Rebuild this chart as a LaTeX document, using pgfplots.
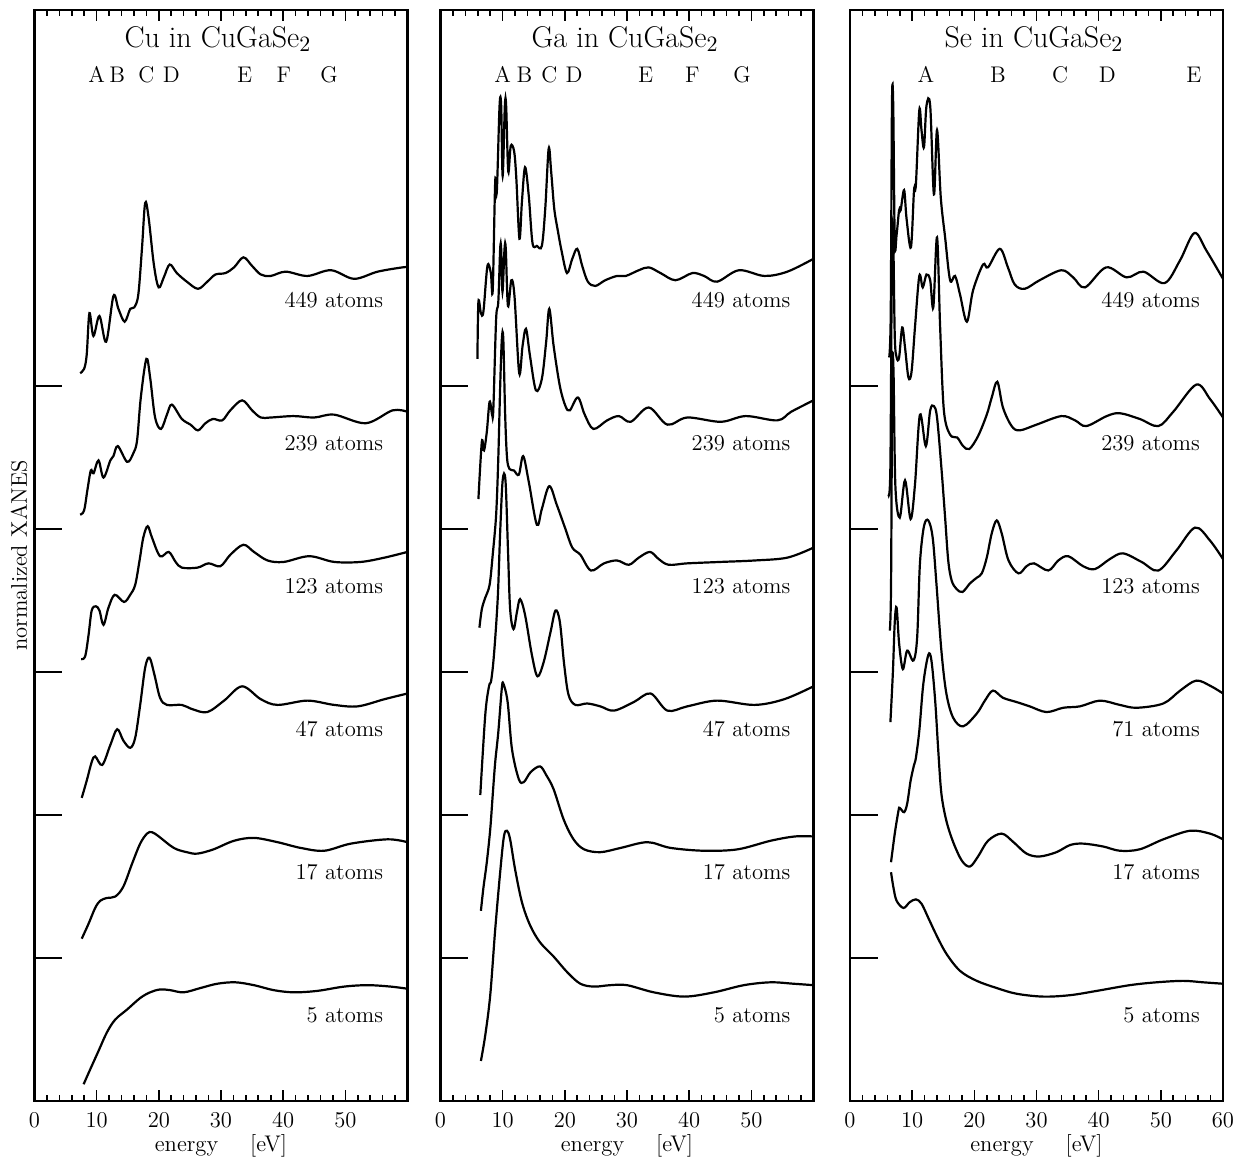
\documentclass[border=0pt]{standalone}
\usepackage{pgfplots}
\pgfplotsset{compat=1.18}

\pgfplotsset{
  xanes/.style={
    scale only axis, width=186.5pt, height=545.5pt,
    xmin=0, xmax=60, ymin=0, ymax=7.63,
    xtick={0,10,...,60}, minor x tick num=4,
    ytick=\empty, minor ytick={0.25,0.5,...,7.5},
    tick align=inside,
    major tick length=5.5pt, minor tick length=2.8pt,
    axis line style={line width=1.1pt},
    every tick/.style={black, line width=0.8pt},
    tick label style={font=\fontsize{11.3}{13}\selectfont},
    xticklabel style={yshift=-2pt},
    xlabel={energy\hspace{16pt}[eV]},
    xlabel style={font=\fontsize{11.3}{13}\selectfont,
      at={(axis description cs:0.5,0)}, anchor=base, yshift=-25.3pt},
  },
  curve/.style={black, line width=1.1pt, smooth, tension=0.55, mark=none},
  base/.style={black, line width=1.1pt, mark=none},
}
\newcommand{\lbl}{\fontsize{11.3}{13}\selectfont}
\newcommand{\ttl}{\fontsize{15}{17}\selectfont}

\begin{document}
\begin{tikzpicture}

% ---------- Cu ----------
\begin{axis}[xanes, at={(0pt,0pt)},
  xticklabels={0,10,20,30,40,50,},
  ylabel={normalized XANES},
  ylabel style={font=\lbl, at={(axis description cs:0,0.5)}, anchor=south}]
\addplot[base] coordinates {(0,1)(4.5,1)};
\addplot[base] coordinates {(0,2)(4.5,2)};
\addplot[base] coordinates {(0,3)(4.5,3)};
\addplot[base] coordinates {(0,4)(4.5,4)};
\addplot[base] coordinates {(0,5)(4.5,5)};
% 449
\addplot[curve] coordinates {(7.34,5.09)(7.98,5.12)(8.4,5.22)(8.84,5.51)(9.48,5.35)(10.45,5.49)(11.53,5.31)(12.7,5.63)(13.5,5.54)(14.5,5.45)(15.4,5.54)(16.05,5.55)(16.7,5.64)(17.3,5.97)(17.8,6.28)(18.35,6.18)(19.2,5.85)(19.97,5.69)(20.8,5.76)(21.75,5.85)(22.9,5.79)(24.5,5.73)(26.3,5.68)(27.8,5.73)(29.1,5.78)(30.7,5.79)(32.1,5.83)(33.6,5.9)(35.0,5.84)(36.4,5.78)(38.0,5.77)(40.4,5.80)(43.9,5.77)(47.7,5.81)(51.4,5.75)(55.2,5.80)(59.2,5.83)(60,5.83)};
% 239
\addplot[curve] coordinates {(7.34,4.10)(7.98,4.13)(8.5,4.27)(9.06,4.41)(9.5,4.39)(10.3,4.48)(11.1,4.36)(12.2,4.48)(12.7,4.51)(13.4,4.58)(14.9,4.47)(15.9,4.53)(16.5,4.62)(17.1,4.92)(18.0,5.19)(18.6,5.06)(19.4,4.78)(20.35,4.70)(21.3,4.80)(22.1,4.87)(23.7,4.77)(25.1,4.73)(26.3,4.69)(27.5,4.74)(28.7,4.77)(30.2,4.76)(31.5,4.83)(33.4,4.90)(35.0,4.83)(36.4,4.78)(38.0,4.78)(41.7,4.79)(45,4.78)(48.2,4.80)(53.3,4.74)(57.6,4.83)(60,4.82)};
% 123
\addplot[curve] coordinates {(7.5,3.09)(8.15,3.11)(8.7,3.26)(9.2,3.43)(9.87,3.46)(10.45,3.43)(11.1,3.33)(11.9,3.45)(12.9,3.54)(14.4,3.49)(15.4,3.54)(16.2,3.61)(16.9,3.78)(17.5,3.94)(18.2,4.02)(18.9,3.94)(20.2,3.81)(21.6,3.84)(22.7,3.77)(23.7,3.73)(26.2,3.73)(28.0,3.76)(29.9,3.74)(31.5,3.82)(33.6,3.89)(35.3,3.84)(37.5,3.78)(40.1,3.77)(44.2,3.81)(48.2,3.77)(52.5,3.77)(56.3,3.80)(60,3.84)};
% 47
\addplot[curve] coordinates {(7.6,2.12)(8.4,2.24)(9.2,2.37)(9.76,2.41)(10.9,2.35)(12.2,2.49)(13.3,2.60)(14.3,2.52)(15.4,2.47)(16.2,2.54)(17.0,2.77)(17.8,3.03)(18.5,3.10)(19.3,2.98)(20.2,2.82)(21.3,2.77)(23.7,2.77)(25.4,2.74)(27.8,2.72)(30.5,2.80)(33.4,2.90)(36.4,2.81)(39.1,2.77)(43.9,2.80)(48.2,2.77)(52.0,2.76)(56.3,2.81)(60,2.85)};
% 17
\addplot[curve] coordinates {(7.6,1.135)(8.7,1.24)(9.76,1.35)(10.56,1.40)(11.65,1.42)(13.0,1.43)(14.3,1.50)(15.7,1.66)(17.0,1.80)(18.1,1.87)(18.9,1.88)(20.0,1.85)(22.4,1.77)(24.5,1.74)(26.2,1.73)(28.8,1.76)(32.1,1.82)(35.3,1.84)(39.1,1.81)(42.8,1.77)(46.6,1.75)(50.9,1.80)(56.8,1.83)(60,1.81)};
% 5
\addplot[curve] coordinates {(7.9,0.117)(8.95,0.22)(10.3,0.35)(11.65,0.48)(13.0,0.57)(14.9,0.64)(17.0,0.72)(18.6,0.76)(20.2,0.78)(21.85,0.775)(24.0,0.76)(26.7,0.79)(29.4,0.82)(32.3,0.83)(35.3,0.81)(38.5,0.775)(41.7,0.76)(45.5,0.77)(49.8,0.80)(53.6,0.81)(57.3,0.80)(60,0.785)};
\node[anchor=base, font=\ttl] at (axis cs:29.5,7.37) {Cu in CuGaSe$_2$};
\node[anchor=base, font=\lbl] at (axis cs:10.0,7.12) {A};
\node[anchor=base, font=\lbl] at (axis cs:13.3,7.12) {B};
\node[anchor=base, font=\lbl] at (axis cs:18.0,7.12) {C};
\node[anchor=base, font=\lbl] at (axis cs:22.0,7.12) {D};
\node[anchor=base, font=\lbl] at (axis cs:33.8,7.12) {E};
\node[anchor=base, font=\lbl] at (axis cs:40.1,7.12) {F};
\node[anchor=base, font=\lbl] at (axis cs:47.4,7.12) {G};
\node[anchor=base east, font=\lbl] at (axis cs:57.2,5.55) {449 atoms};
\node[anchor=base east, font=\lbl] at (axis cs:57.2,4.55) {239 atoms};
\node[anchor=base east, font=\lbl] at (axis cs:57.2,3.55) {123 atoms};
\node[anchor=base east, font=\lbl] at (axis cs:57.2,2.55) {47 atoms};
\node[anchor=base east, font=\lbl] at (axis cs:57.2,1.55) {17 atoms};
\node[anchor=base east, font=\lbl] at (axis cs:57.2,0.55) {5 atoms};
\end{axis}

% ---------- Ga ----------
\begin{axis}[xanes, at={(203pt,0pt)},
  xticklabels={0,10,20,30,40,50,}]
\addplot[base] coordinates {(0,1)(4.5,1)};
\addplot[base] coordinates {(0,2)(4.5,2)};
\addplot[base] coordinates {(0,3)(4.5,3)};
\addplot[base] coordinates {(0,4)(4.5,4)};
\addplot[base] coordinates {(0,5)(4.5,5)};
% 449
\addplot[curve] coordinates {(5.94,5.19)(6.1,5.59)(6.5,5.51)(6.9,5.52)(7.55,5.84)(8.1,5.79)(8.4,5.67)(8.8,6.43)(9.06,6.36)(9.5,6.96)(9.76,6.96)(10.0,6.47)(10.35,6.96)(10.56,6.96)(10.9,6.50)(11.3,6.68)(11.85,6.64)(12.2,6.45)(12.7,6.03)(13.1,6.29)(13.6,6.53)(14.2,6.33)(14.8,6.0)(15.5,5.98)(16.3,5.98)(16.85,6.24)(17.4,6.66)(17.8,6.50)(18.3,6.24)(18.9,6.08)(19.5,5.94)(20.35,5.79)(21.2,5.89)(22.0,5.96)(22.8,5.84)(23.7,5.73)(24.9,5.70)(26.5,5.74)(28.4,5.77)(29.8,5.77)(31.9,5.81)(33.5,5.83)(35.4,5.79)(37.8,5.74)(40.5,5.79)(42.4,5.77)(44.5,5.73)(48.0,5.81)(52.1,5.77)(55.8,5.80)(60,5.89)};
% 239
\addplot[curve] coordinates {(6.1,4.21)(6.65,4.61)(7.0,4.55)(7.45,4.68)(7.9,4.89)(8.3,4.80)(8.5,4.84)(8.95,5.47)(9.3,5.59)(9.6,5.96)(9.76,5.96)(9.97,5.66)(10.3,5.96)(10.5,5.96)(10.85,5.56)(11.4,5.74)(11.9,5.63)(12.66,5.09)(13.2,5.28)(13.75,5.40)(14.4,5.21)(15.35,4.97)(16.3,5.05)(17.0,5.31)(17.5,5.54)(18.2,5.28)(19.2,5.00)(20.1,4.86)(20.8,4.83)(22.1,4.92)(23.2,4.80)(24.6,4.70)(26.8,4.76)(28.7,4.79)(30.6,4.75)(33.5,4.85)(36.5,4.73)(39.7,4.78)(45.1,4.75)(49.1,4.79)(54.2,4.76)(56.4,4.82)(60,4.90)};
% 123
\addplot[curve] coordinates {(6.26,3.31)(6.65,3.44)(7.2,3.52)(7.9,3.61)(8.4,3.82)(8.95,4.10)(9.3,4.5)(9.6,5.0)(9.87,5.33)(10.1,5.33)(10.4,4.8)(10.7,4.5)(11.1,4.42)(11.8,4.41)(12.6,4.38)(13.3,4.51)(14.2,4.33)(15.5,4.03)(16.3,4.14)(17.5,4.30)(18.7,4.17)(20.1,4.00)(21.2,3.87)(22.5,3.82)(24.2,3.71)(26.3,3.76)(28.4,3.78)(30.3,3.75)(31.9,3.80)(33.7,3.84)(35.1,3.79)(36.7,3.75)(39.7,3.76)(45.1,3.77)(50.5,3.78)(55.8,3.80)(60,3.87)};
% 47
\addplot[curve] coordinates {(6.4,2.14)(7.2,2.70)(7.8,2.90)(8.15,2.94)(8.6,3.12)(9.2,3.51)(9.6,3.98)(10.0,4.34)(10.45,4.34)(10.85,3.86)(11.2,3.44)(11.75,3.30)(12.3,3.42)(12.8,3.51)(13.6,3.40)(14.7,3.12)(15.6,2.97)(16.6,3.07)(17.7,3.28)(18.5,3.43)(19.2,3.35)(19.9,3.05)(20.6,2.84)(21.7,2.77)(23.6,2.78)(25.7,2.76)(27.9,2.73)(31.1,2.79)(33.8,2.85)(36.5,2.73)(39.7,2.76)(44.5,2.80)(50.5,2.77)(55.3,2.81)(60,2.90)};
% 17
\addplot[curve] coordinates {(6.5,1.33)(6.9,1.49)(7.45,1.67)(8.0,1.90)(8.4,2.14)(8.8,2.37)(9.3,2.58)(9.85,2.88)(10.1,2.92)(10.8,2.79)(11.5,2.46)(12.6,2.25)(13.4,2.23)(14.5,2.30)(16.0,2.34)(17.0,2.28)(18.2,2.18)(19.8,1.97)(21.4,1.83)(23.1,1.76)(25.7,1.74)(29.0,1.77)(33.3,1.81)(37.0,1.77)(42.4,1.75)(47.8,1.76)(53.1,1.82)(57.0,1.85)(60,1.85)};
% 5
\addplot[curve] coordinates {(6.5,0.28)(7.2,0.46)(8.0,0.74)(8.8,1.20)(9.6,1.60)(10.2,1.85)(10.7,1.89)(11.2,1.83)(12.0,1.62)(13.1,1.39)(14.4,1.23)(16.0,1.11)(18.2,1.01)(20.4,0.90)(22.5,0.82)(24.7,0.80)(27.3,0.81)(30.0,0.81)(34.3,0.76)(39.2,0.73)(44.0,0.76)(48.8,0.81)(53.1,0.83)(56.8,0.82)(60,0.81)};
\node[anchor=base, font=\ttl] at (axis cs:29.7,7.37) {Ga in CuGaSe$_2$};
\node[anchor=base, font=\lbl] at (axis cs:10.0,7.12) {A};
\node[anchor=base, font=\lbl] at (axis cs:13.5,7.12) {B};
\node[anchor=base, font=\lbl] at (axis cs:17.5,7.12) {C};
\node[anchor=base, font=\lbl] at (axis cs:21.5,7.12) {D};
\node[anchor=base, font=\lbl] at (axis cs:33.0,7.12) {E};
\node[anchor=base, font=\lbl] at (axis cs:40.5,7.12) {F};
\node[anchor=base, font=\lbl] at (axis cs:48.5,7.12) {G};
\node[anchor=base east, font=\lbl] at (axis cs:57.4,5.55) {449 atoms};
\node[anchor=base east, font=\lbl] at (axis cs:57.4,4.55) {239 atoms};
\node[anchor=base east, font=\lbl] at (axis cs:57.4,3.55) {123 atoms};
\node[anchor=base east, font=\lbl] at (axis cs:57.4,2.55) {47 atoms};
\node[anchor=base east, font=\lbl] at (axis cs:57.4,1.55) {17 atoms};
\node[anchor=base east, font=\lbl] at (axis cs:57.4,0.55) {5 atoms};
\end{axis}

% ---------- Se ----------
\begin{axis}[xanes, at={(407.75pt,0pt)},
  xticklabels={0,10,20,30,40,50,60}]
\addplot[base] coordinates {(0,1)(4.5,1)};
\addplot[base] coordinates {(0,2)(4.5,2)};
\addplot[base] coordinates {(0,3)(4.5,3)};
\addplot[base] coordinates {(0,4)(4.5,4)};
\addplot[base] coordinates {(0,5)(4.5,5)};
% 449
\addplot[curve] coordinates {(6.3,5.20)(6.55,5.5)(6.75,6.97)(6.95,6.97)(7.2,6.0)(7.5,6.06)(7.9,6.23)(8.15,6.23)(8.7,6.37)(9.1,6.17)(9.8,5.97)(10.3,6.37)(10.6,6.41)(11.15,6.93)(11.5,6.79)(11.9,6.67)(12.3,6.96)(12.9,6.96)(13.5,6.34)(14.0,6.79)(14.6,6.32)(15.3,6.04)(16.1,5.74)(16.9,5.77)(17.7,5.64)(18.8,5.45)(19.8,5.67)(21.4,5.85)(22.2,5.83)(24.1,5.96)(25.4,5.83)(26.5,5.71)(28.1,5.68)(30.5,5.74)(34.0,5.81)(35.9,5.76)(37.8,5.69)(41.2,5.83)(44.5,5.76)(47.2,5.80)(50.6,5.72)(53.1,5.88)(55.4,6.07)(57.3,5.95)(60,5.75)};
% 239
\addplot[curve] coordinates {(6.2,4.24)(6.5,4.45)(6.75,6.0)(6.95,6.05)(7.2,5.35)(7.5,5.20)(7.9,5.20)(8.4,5.41)(8.85,5.27)(9.4,5.06)(9.9,5.10)(10.45,5.41)(11.15,5.77)(11.7,5.69)(12.3,5.78)(12.9,5.74)(13.4,5.55)(14.0,6.04)(14.5,5.41)(15.1,4.83)(16.1,4.66)(17.25,4.64)(18.2,4.58)(19.2,4.56)(20.6,4.65)(22.0,4.80)(22.8,4.92)(23.7,5.03)(24.6,4.85)(26.0,4.72)(27.3,4.69)(30.0,4.73)(34.0,4.79)(36.2,4.76)(38.0,4.72)(41.3,4.79)(43.4,4.81)(46.6,4.77)(49.6,4.72)(52.0,4.82)(55.7,5.01)(57.9,4.91)(60,4.78)};
% 123
\addplot[curve] coordinates {(6.4,3.29)(6.6,3.6)(6.8,5.1)(7.0,5.1)(7.3,4.3)(8.0,4.08)(8.85,4.34)(9.75,4.07)(10.45,4.31)(11.25,4.80)(12.2,4.58)(12.9,4.83)(13.5,4.86)(14.0,4.78)(14.7,4.43)(15.3,4.08)(15.8,3.78)(16.35,3.64)(17.15,3.58)(18.1,3.56)(19.3,3.62)(20.4,3.66)(21.2,3.69)(22.0,3.80)(22.8,3.97)(23.6,4.06)(24.4,3.97)(25.5,3.78)(27.1,3.69)(28.4,3.74)(29.6,3.76)(31.9,3.71)(33.5,3.78)(35.1,3.81)(37.5,3.74)(39.4,3.72)(41.8,3.79)(43.9,3.83)(46.9,3.77)(49.6,3.71)(52.5,3.85)(55.5,4.01)(57.9,3.92)(60,3.79)};
% 71
\addplot[curve] coordinates {(6.5,2.65)(6.9,3.0)(7.2,3.35)(7.5,3.45)(7.9,3.2)(8.5,3.02)(9.2,3.15)(10.2,3.08)(10.8,3.24)(11.25,3.76)(11.9,4.02)(12.6,4.06)(13.3,3.94)(13.9,3.62)(14.7,3.15)(15.5,2.85)(16.6,2.68)(18.2,2.62)(20.4,2.71)(21.7,2.80)(23.0,2.87)(24.6,2.82)(26.8,2.79)(28.9,2.76)(31.6,2.72)(34.3,2.75)(37.0,2.76)(40.2,2.80)(43.4,2.77)(46.1,2.75)(50.4,2.78)(53.1,2.87)(55.7,2.94)(58.1,2.90)(60,2.85)};
% 17
\addplot[curve] coordinates {(6.6,1.67)(7.2,1.87)(7.8,2.03)(8.0,2.05)(8.7,2.02)(9.2,2.08)(9.75,2.24)(10.3,2.35)(10.6,2.40)(11.15,2.59)(11.8,2.92)(12.6,3.12)(13.1,3.08)(13.7,2.80)(14.2,2.45)(14.7,2.15)(15.5,1.96)(16.6,1.81)(18.0,1.68)(19.3,1.64)(20.6,1.71)(22.2,1.82)(24.4,1.87)(26.3,1.81)(28.4,1.73)(30.5,1.71)(33.2,1.74)(35.4,1.79)(37.5,1.80)(40.7,1.78)(43.4,1.75)(46.6,1.76)(50.4,1.83)(54.7,1.89)(57.9,1.87)(60,1.83)};
% 5
\addplot[curve] coordinates {(6.6,1.60)(7.0,1.49)(7.5,1.40)(8.6,1.35)(9.6,1.39)(10.6,1.41)(11.5,1.38)(12.6,1.28)(13.9,1.16)(15.5,1.03)(17.7,0.91)(20.4,0.84)(23.6,0.79)(26.8,0.75)(31.1,0.73)(35.4,0.74)(39.7,0.77)(45.0,0.81)(49.3,0.83)(53.6,0.84)(56.8,0.83)(60,0.82)};
\node[anchor=base, font=\ttl] at (axis cs:29.6,7.37) {Se in CuGaSe$_2$};
\node[anchor=base, font=\lbl] at (axis cs:12.2,7.12) {A};
\node[anchor=base, font=\lbl] at (axis cs:23.8,7.12) {B};
\node[anchor=base, font=\lbl] at (axis cs:33.8,7.12) {C};
\node[anchor=base, font=\lbl] at (axis cs:41.4,7.12) {D};
\node[anchor=base, font=\lbl] at (axis cs:55.3,7.12) {E};
\node[anchor=base east, font=\lbl] at (axis cs:57.4,5.55) {449 atoms};
\node[anchor=base east, font=\lbl] at (axis cs:57.4,4.55) {239 atoms};
\node[anchor=base east, font=\lbl] at (axis cs:57.4,3.55) {123 atoms};
\node[anchor=base east, font=\lbl] at (axis cs:57.4,2.55) {71 atoms};
\node[anchor=base east, font=\lbl] at (axis cs:57.4,1.55) {17 atoms};
\node[anchor=base east, font=\lbl] at (axis cs:57.4,0.55) {5 atoms};
\end{axis}

% page frame with the reference's margins
\path (-17.25pt,-29pt) rectangle (606.75pt,550.5pt);
\end{tikzpicture}
\end{document}
